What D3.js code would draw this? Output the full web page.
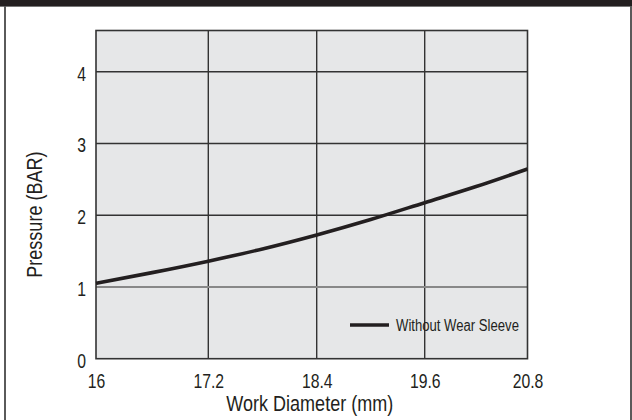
<!DOCTYPE html>
<html>
<head>
<meta charset="utf-8">
<script src="https://cdn.jsdelivr.net/npm/d3@7"></script>
<style>
  html, body { margin: 0; padding: 0; background: #fff; }
  svg { display: block; }
  text { font-family: "Liberation Sans", Arial, sans-serif; fill: #231f20; }
</style>
</head>
<body>
<svg id="chart" width="632" height="420"></svg>
<script>
// Work diameter (mm) vs. pressure (BAR)
const xTicks = [16, 17.2, 18.4, 19.6, 20.8];
const yTicks = [0, 1, 2, 3, 4];
const diameters = [16, 16.6, 17.2, 17.8, 18.4, 19.0, 19.6, 20.2, 20.8];
const pressure  = [1.05, 1.20, 1.36, 1.53, 1.725, 1.94, 2.175, 2.40, 2.645];
const seriesName = "Without Wear Sleeve";
const xTitle = "Work Diameter (mm)";
const yTitle = "Pressure (BAR)";

const W = 632, H = 420;
const svg = d3.select("#chart");
const ink = "#231f20";

// Condensed lettering: squeeze text horizontally around its anchor point
function squeeze(sel, sx) {
  sel.each(function () {
    const t = d3.select(this);
    const tx = +t.attr("x") || 0, ty = +t.attr("y") || 0;
    const prev = t.attr("transform") || "";
    t.attr("x", 0).attr("y", 0)
      .attr("transform", `${prev} translate(${tx},${ty}) scale(${sx},1)`);
  });
}

// Frame: dark header band and side rules
svg.append("rect").attr("x", 0).attr("y", 0).attr("width", W).attr("height", 6).attr("fill", ink);
svg.append("line").attr("x1", 0).attr("x2", W).attr("y1", 6.5).attr("y2", 6.5).attr("stroke", "#777").attr("stroke-width", 1);
svg.append("rect").attr("x", 4).attr("y", 6).attr("width", 2).attr("height", H - 6).attr("fill", "#5a5a5a");
svg.append("rect").attr("x", 630).attr("y", 6).attr("width", 2).attr("height", H - 6).attr("fill", "#5a5a5a");

// Scales (grid columns of the printed chart are slightly uneven)
const x = d3.scaleLinear().domain(xTicks).range([96, 208.3, 316.7, 424.7, 527.5]);
const y = d3.scaleLinear().domain([0, 4.575]).range([358.7, 30.5]);

const [x0, x1] = [x(16), x(20.8)];
const [yb, yt] = [y(0), y(4.575)];

svg.append("rect").attr("x", x0).attr("y", yt).attr("width", x1 - x0).attr("height", yb - yt).attr("fill", "#e6e7e8");

// Grid
const grid = svg.append("g").attr("stroke", "#333").attr("stroke-width", 1.4);
grid.selectAll("line.v").data(xTicks.slice(1, -1)).join("line")
  .attr("x1", d => x(d)).attr("x2", d => x(d)).attr("y1", yt).attr("y2", yb);
grid.selectAll("line.h").data(yTicks.slice(1)).join("line")
  .attr("x1", x0).attr("x2", x1).attr("y1", d => y(d)).attr("y2", d => y(d))
  .attr("stroke", d => d === 1 ? "#888" : "#333")
  .attr("stroke-width", d => d === 1 ? 2 : 1.4);

// Plot border
svg.append("rect").attr("x", x0).attr("y", yt).attr("width", x1 - x0).attr("height", yb - yt)
  .attr("fill", "none").attr("stroke", "#333").attr("stroke-width", 1.6);

// Axes tick labels
const xAxis = d3.axisBottom(x).tickValues(xTicks).tickSize(0).tickPadding(0).tickFormat(d3.format("~g"));
const gx = svg.append("g").attr("transform", `translate(0,${yb})`).call(xAxis);
gx.attr("font-family", null);
gx.select(".domain").remove();
gx.selectAll("text").attr("dy", null).attr("y", 29)
  .style("font-size", "21px").attr("fill", ink)
  .call(squeeze, 0.75);

const yAxis = d3.axisLeft(y).tickValues(yTicks).tickSize(0).tickPadding(0).tickFormat(d3.format("d"));
const gy = svg.append("g").attr("transform", `translate(86,0)`).call(yAxis);
gy.attr("font-family", null);
gy.select(".domain").remove();
gy.selectAll("text").attr("dy", "0.4em").attr("x", 0)
  .style("font-size", "21px").attr("fill", ink)
  .call(squeeze, 0.75);

// Axis titles
svg.append("text").attr("x", (x0 + x1) / 2 - 2).attr("y", 411).attr("text-anchor", "middle")
  .style("font-size", "22px").text(xTitle).call(squeeze, 0.82);
svg.append("text").attr("transform", `translate(42,${(yt + yb) / 2 + 20}) rotate(-90)`)
  .attr("text-anchor", "middle").style("font-size", "22px").text(yTitle).call(squeeze, 0.82);

// Curve
const line = d3.line().x(d => x(d[0])).y(d => y(d[1])).curve(d3.curveMonotoneX);
svg.append("path").datum(d3.zip(diameters, pressure)).attr("d", line)
  .attr("fill", "none").attr("stroke", ink).attr("stroke-width", 3.6);

// Legend
const lg = svg.append("g").attr("transform", "translate(350,325)");
lg.append("line").attr("x1", 0).attr("x2", 39).attr("y1", 0).attr("y2", 0).attr("stroke", ink).attr("stroke-width", 3.6);
lg.append("text").attr("x", 46).attr("y", 5.5).style("font-size", "16px").text(seriesName).call(squeeze, 0.82);
</script>
</body>
</html>
